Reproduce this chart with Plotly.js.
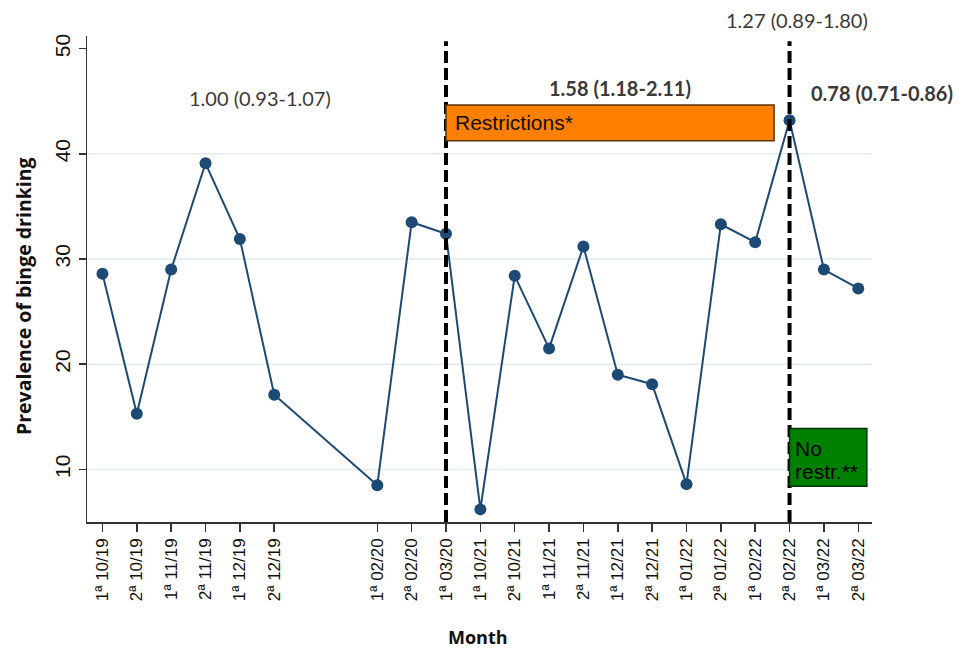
<!DOCTYPE html>
<html>
<head>
<meta charset="utf-8">
<script src="https://cdn.plot.ly/plotly-3.0.1.min.js"></script>
<style>html,body{margin:0;padding:0;background:#fff;}#chart{width:974px;height:648px;}</style>
</head>
<body>
<div id="chart"></div>
<script>
// ---- data ----
const tickLabels = ["1ª 10/19","2ª 10/19","1ª 11/19","2ª 11/19","1ª 12/19","2ª 12/19",
  "1ª 02/20","2ª 02/20","1ª 03/20","1ª 10/21","2ª 10/21","1ª 11/21","2ª 11/21",
  "1ª 12/21","2ª 12/21","1ª 01/22","2ª 01/22","1ª 02/22","2ª 02/22","1ª 03/22","2ª 03/22"];
const xPositions = [0,1,2,3,4,5, 8,9,10,11,12,13,14,15,16,17,18,19,20,21,22];
const prevalence = [28.6,15.3,29.0,39.1,31.9,17.1,
  8.5,33.5,32.4,6.2,28.4,21.5,31.2,19.0,18.1,8.6,33.3,31.6,43.2,29.0,27.2];
const yTicks = [10,20,30,40,50];
const gridValues = [10,20,30,40];
const breakPoints = [10,20];           // dashed vertical lines (1ª 03/20, 2ª 02/22)
const restrictionsBox = {x0:10, x1:19.55, y0:41.25, y1:44.65, label:"Restrictions*"};
const noRestrBox = {x0:20, x1:22.25, y0:8.4, y1:13.9, lines:["No","restr.**"]};
const periodLabels = [
  {text:"1.00 (0.93-1.07)", x:0.221, y:0.872, bold:false},
  {text:"1.58 (1.18-2.11)", x:0.679, y:0.893, bold:true},
  {text:"1.27 (0.89-1.80)", x:0.904, y:1.033, bold:false},
  {text:"0.78 (0.71-0.86)", x:1.0127, y:0.883, bold:true}
];
const xTitle = "Month";
const yTitle = "Prevalence of binge drinking";

const navy = "#1c4a74";
const trace = {
  x: xPositions, y: prevalence, type: "scatter", mode: "lines+markers",
  line: {color: navy, width: 2},
  marker: {color: navy, size: 12, line: {width: 0}},
  hoverinfo: "skip", cliponaxis: false
};

const shapes = [];
gridValues.forEach(v => shapes.push({type:"line", xref:"paper", x0:0, x1:1, yref:"y", y0:v, y1:v,
  line:{color:"#e2ebef", width:1.5}, layer:"below"}));
breakPoints.forEach(v => shapes.push({type:"line", xref:"x", x0:v, x1:v, yref:"y", y0:5, y1:50.7,
  line:{color:"#000", width:4, dash:"12px,5px"}, layer:"above"}));
shapes.push({type:"rect", xref:"x", yref:"y", x0:restrictionsBox.x0, x1:restrictionsBox.x1,
  y0:restrictionsBox.y0, y1:restrictionsBox.y1, fillcolor:"#ff8000", line:{color:"#5a3000", width:1.5}, layer:"above"});
shapes.push({type:"rect", xref:"x", yref:"y", x0:noRestrBox.x0, x1:noRestrBox.x1,
  y0:noRestrBox.y0, y1:noRestrBox.y1, fillcolor:"#008000", line:{color:"#003300", width:1.5}, layer:"above"});

const annotations = periodLabels.map(p => ({
  text: p.bold ? "<b>" + p.text + "</b>" : p.text, x:p.x, y:p.y, xref:"paper", yref:"paper",
  showarrow:false, xanchor:"center", yanchor:"middle",
  font:{family:"Lato, 'Open Sans', sans-serif", size:20, color:"#3a3a3a"}
}));
annotations.push({text:restrictionsBox.label, x:10.2, y:42.95, xref:"x", yref:"y", showarrow:false,
  xanchor:"left", yanchor:"middle", font:{family:"Liberation Sans, Arial, sans-serif", size:21, color:"#111"}});
const noRestrY = [12.0, 9.8];
noRestrBox.lines.forEach((t, i) => annotations.push({text:t, x:20.1, y:noRestrY[i], xref:"x", yref:"y",
  showarrow:false, xanchor:"left", yanchor:"middle",
  font:{family:"Liberation Sans, Arial, sans-serif", size:21, color:"#000"}}));
annotations.push({text:"<b>" + yTitle + "</b>", x:-0.0815, y:0.465, xref:"paper", yref:"paper",
  showarrow:false, textangle:-90, xanchor:"center", yanchor:"middle",
  font:{family:"'Open Sans', sans-serif", size:19.5, color:"#111"}});
annotations.push({text:"<b>" + xTitle + "</b>", x:0.498, y:-0.2366, xref:"paper", yref:"paper",
  showarrow:false, xanchor:"center", yanchor:"middle",
  font:{family:"'Open Sans', sans-serif", size:18, color:"#111"}});

const layout = {
  width: 974, height: 648,
  margin: {l:87, r:102, t:36, b:126},
  paper_bgcolor: "#fff", plot_bgcolor: "#fff",
  showlegend: false,
  xaxis: {
    range: [-0.45, 22.4], tickmode: "array", tickvals: xPositions, ticktext: tickLabels,
    tickangle: -90, ticks: "outside", ticklen: 8, tickwidth: 1.5, tickcolor: "#333",
    showline: true, linecolor: "#333", linewidth: 1.5, showgrid: false, zeroline: false,
    tickfont: {family: "Liberation Sans, Arial, sans-serif", size: 17, color: "#111"}
  },
  yaxis: {
    range: [5, 51.2], tickmode: "array", tickvals: yTicks, tickangle: -90,
    ticks: "outside", ticklen: 7, tickwidth: 1.5, tickcolor: "#333",
    showline: true, linecolor: "#333", linewidth: 1.5, showgrid: false, zeroline: false,
    tickfont: {family: "Liberation Sans, Arial, sans-serif", size: 21, color: "#111"}
  },
  shapes: shapes,
  annotations: annotations
};

Plotly.newPlot("chart", [trace], layout, {staticPlot: true, displayModeBar: false});
</script>
</body>
</html>
